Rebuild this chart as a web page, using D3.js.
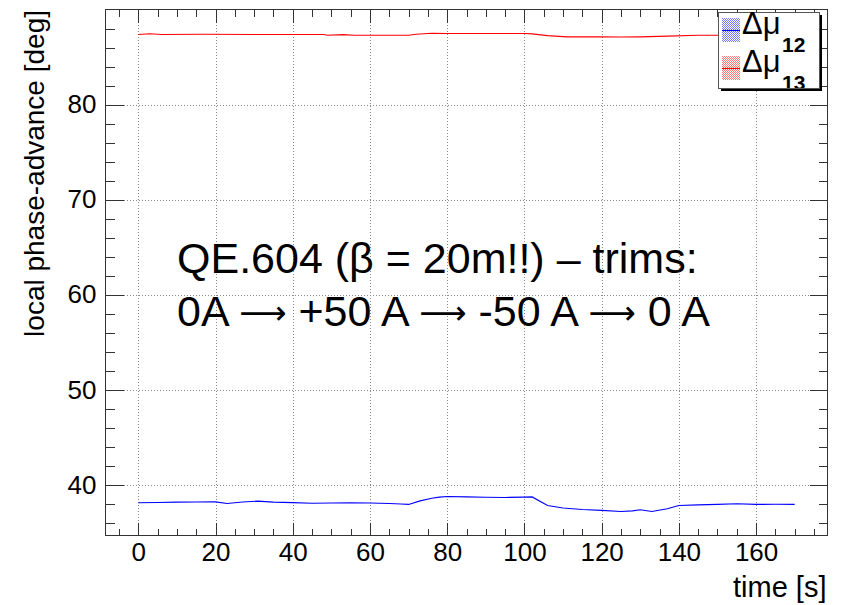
<html>

<head>

	<meta http-equiv="content-type" content="text/html" charset="utf-8" />

	<script src="https://cdnjs.cloudflare.com/ajax/libs/d3/7.8.5/d3.min.js" charset="utf-8"></script>

	<style>
		body { margin: 0; background: #fff; }
		svg text { font-family: "Liberation Sans", Arial, Helvetica, sans-serif; fill: #000; }
		.axis path.domain { display: none; }
		.axis line { stroke: #333; shape-rendering: crispEdges; }
		.grid line { stroke: #888; stroke-dasharray: 1,2; shape-rendering: crispEdges; }
		.grid path.domain { display: none; }
		.arrow { font-family: "DejaVu Sans", sans-serif; font-size: 33px; }
	</style>

</head>

<body>

<div id="datavis"></div>

<script type="text/javascript">

	// time [s] / phase advance [deg]
	var time12 = [0, 5, 10, 15, 20, 23, 27, 31, 35, 40, 45, 50, 55, 60, 65, 68, 70, 73, 76, 78, 80, 85, 90, 95, 100, 102, 106, 110, 115, 120, 125, 128, 130, 133, 137, 140, 145, 150, 155, 160, 165, 170];
	var dmu12 = [38.10, 38.13, 38.17, 38.19, 38.20, 38.02, 38.18, 38.28, 38.17, 38.12, 38.05, 38.08, 38.09, 38.08, 38.03, 37.98, 37.93, 38.30, 38.58, 38.70, 38.77, 38.72, 38.68, 38.66, 38.70, 38.72, 37.82, 37.56, 37.40, 37.30, 37.19, 37.25, 37.37, 37.19, 37.47, 37.82, 37.88, 37.93, 38.00, 37.93, 37.95, 37.93];

	var time13 = [0, 3, 6, 17, 30, 48, 49, 53, 56, 70, 72, 76, 80, 90, 100, 102, 106, 111, 120, 125, 130, 137, 145, 160, 170];
	var dmu13 = [87.37, 87.45, 87.37, 87.40, 87.37, 87.37, 87.29, 87.36, 87.29, 87.29, 87.40, 87.50, 87.47, 87.47, 87.47, 87.44, 87.25, 87.12, 87.12, 87.10, 87.12, 87.20, 87.29, 87.29, 87.30];

	var xMajor = [0, 20, 40, 60, 80, 100, 120, 140, 160];
	var xMinor = d3.range(-5, 178, 5);
	var yMajor = [40, 50, 60, 70, 80];
	var yMinor = d3.range(36, 90, 2);

	var legendNames = ["12", "13"];
	var legendColors = ["#0000ff", "#ff0000"];
	var legendHatch = ["#7777ff", "#ff7777"];

	var W = 842, H = 605;
	var x0 = 105.5, x1 = 827.5, y0 = 9.5, y1 = 535.5;

	var x = d3.scaleLinear().domain([-8.5, 178.5]).range([x0, x1]);
	var y = d3.scaleLinear().domain([34.66, 90]).range([y1, y0]);

	var svg = d3.select("#datavis")
		.append("svg")
		.attr("width", W)
		.attr("height", H);

	svg.append("rect").attr("width", W).attr("height", H).style("fill", "#fff");

	// grid
	svg.append("g").attr("class", "grid")
		.attr("transform", "translate(0," + y1 + ")")
		.call(d3.axisBottom(x).tickValues(xMajor).tickSize(-(y1 - y0)).tickFormat(""));
	svg.append("g").attr("class", "grid")
		.attr("transform", "translate(" + x0 + ",0)")
		.call(d3.axisLeft(y).tickValues(yMajor).tickSize(-(x1 - x0)).tickFormat(""));

	// data
	var line = d3.line()
		.x(function(d){ return x(d[0]); })
		.y(function(d){ return y(d[1]); });

	svg.append("path")
		.datum(d3.zip(time12, dmu12))
		.attr("d", line)
		.style("fill", "none")
		.style("stroke", legendColors[0])
		.style("stroke-width", 1.1);

	svg.append("path")
		.datum(d3.zip(time13, dmu13))
		.attr("d", line)
		.style("fill", "none")
		.style("stroke", legendColors[1])
		.style("stroke-width", 1.1);

	// axes with ticks pointing inward
	var fs = 26;

	var gl = svg.append("g").attr("class", "axis").attr("transform", "translate(" + x0 + ",0)");
	gl.call(d3.axisLeft(y).tickValues(yMinor).tickSize(-9).tickFormat(""));
	var glm = svg.append("g").attr("class", "axis").attr("transform", "translate(" + x0 + ",0)");
	glm.call(d3.axisLeft(y).tickValues(yMajor).tickSize(-18).tickPadding(9).tickFormat(d3.format("d")));
	glm.selectAll("text").style("font-size", fs + "px");

	svg.append("g").attr("class", "axis").attr("transform", "translate(" + x1 + ",0)")
		.call(d3.axisRight(y).tickValues(yMinor).tickSize(-9).tickFormat(""));
	svg.append("g").attr("class", "axis").attr("transform", "translate(" + x1 + ",0)")
		.call(d3.axisRight(y).tickValues(yMajor).tickSize(-18).tickFormat(""));

	svg.append("g").attr("class", "axis").attr("transform", "translate(0," + y1 + ")")
		.call(d3.axisBottom(x).tickValues(xMinor).tickSize(-7).tickFormat(""));
	var gbm = svg.append("g").attr("class", "axis").attr("transform", "translate(0," + y1 + ")");
	gbm.call(d3.axisBottom(x).tickValues(xMajor).tickSize(-13).tickPadding(7).tickFormat(d3.format("d")));
	gbm.selectAll("text").style("font-size", fs + "px");

	svg.append("g").attr("class", "axis").attr("transform", "translate(0," + y0 + ")")
		.call(d3.axisTop(x).tickValues(xMinor).tickSize(-7).tickFormat(""));
	svg.append("g").attr("class", "axis").attr("transform", "translate(0," + y0 + ")")
		.call(d3.axisTop(x).tickValues(xMajor).tickSize(-13).tickFormat(""));

	// frame
	svg.append("rect")
		.attr("x", x0).attr("y", y0)
		.attr("width", x1 - x0).attr("height", y1 - y0)
		.style("fill", "none").style("stroke", "#333").style("shape-rendering", "crispEdges");

	// axis titles
	svg.append("text")
		.attr("x", x1 - 1).attr("y", 597)
		.attr("text-anchor", "end")
		.style("font-size", "29px")
		.text("time [s]");

	svg.append("text")
		.attr("transform", "translate(44,10) rotate(-90)")
		.attr("text-anchor", "end")
		.style("font-size", "28px")
		.text("local phase-advance [deg]");

	// annotation
	svg.append("text").attr("x", 177).attr("y", 272.5).style("font-size", "43px")
		.text("QE.604 (\u03b2 = 20m!!) \u2013 trims:");

	var parts = ["0A", "+50 A", "-50 A", "0 A"];
	var t2 = svg.append("text").attr("x", 177).attr("y", 325.5).style("font-size", "43px");
	parts.forEach(function(p, i){
		if (i > 0) {
			t2.append("tspan").text(" ");
			t2.append("tspan").attr("class", "arrow").attr("dy", -1.5).text("\u27f6");
			t2.append("tspan").attr("dy", 1.5).text(" ");
		}
		t2.append("tspan").text(p);
	});

	// legend
	var defs = svg.append("defs");
	legendHatch.forEach(function(c, i){
		var p = defs.append("pattern")
			.attr("id", "hatch" + i)
			.attr("width", 2).attr("height", 2)
			.attr("patternUnits", "userSpaceOnUse");
		p.append("rect").attr("width", 2).attr("height", 2).style("fill", "#fff");
		p.append("rect").attr("width", 1).attr("height", 1).style("fill", c);
		p.append("rect").attr("x", 1).attr("y", 1).attr("width", 1).attr("height", 1).style("fill", c);
	});
	defs.append("clipPath").attr("id", "legclip")
		.append("rect").attr("x", 718).attr("y", 12).attr("width", 101).attr("height", 76);

	var lx = 718, ly = 12, lw = 101, lh = 76;
	svg.append("rect").attr("x", lx + 3).attr("y", ly + 3).attr("width", lw).attr("height", lh)
		.style("fill", "#000").style("shape-rendering", "crispEdges");
	svg.append("rect").attr("x", lx).attr("y", ly).attr("width", lw).attr("height", lh)
		.style("fill", "#fff").style("stroke", "#555").style("shape-rendering", "crispEdges");

	var leg = svg.append("g").attr("clip-path", "url(#legclip)");
	legendNames.forEach(function(n, i){
		var top = 18 + i * 38;
		leg.append("rect").attr("x", 722).attr("y", top).attr("width", 18).attr("height", 24)
			.style("fill", "url(#hatch" + i + ")");
		leg.append("line").attr("x1", 722).attr("x2", 740).attr("y1", top + 12.5).attr("y2", top + 12.5)
			.style("stroke", legendColors[i]).style("stroke-width", 1.2);
		leg.append("text").attr("x", 742).attr("y", top + 15.5).style("font-size", "31px")
			.text("\u0394\u03bc");
		leg.append("text").attr("x", 782).attr("y", top + 34).style("font-size", "21px").style("font-weight", "bold")
			.text(n);
	});

</script>

</body>

</html>
